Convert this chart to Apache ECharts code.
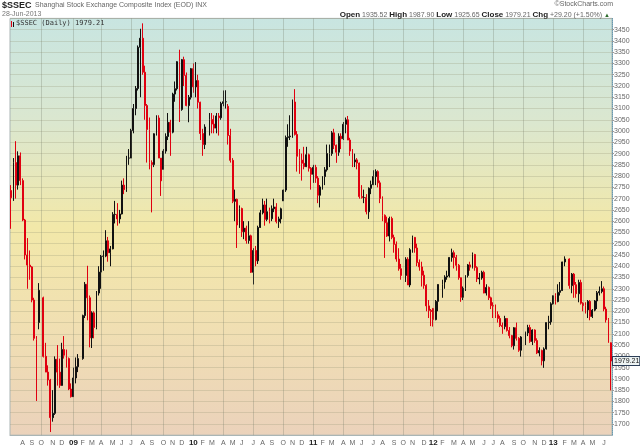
<!DOCTYPE html>
<html>
<head>
<meta charset="utf-8">
<title>$SSEC</title>
<script src="https://cdn.jsdelivr.net/npm/echarts@6.0.0/dist/echarts.min.js"></script>
<style>
  html, body { margin: 0; padding: 0; background: #fff; }
  #main { width: 640px; height: 448px; }
</style>
</head>
<body>
<div id="main"></div>
<script>
// weekly bars, rows are [open, high, low, close]
const bars2008 = [
  [2736,2760,2566,2704],[2704,2880,2690,2860],[2860,2955,2700,2760],[2760,2910,2740,2890],
  [2890,2905,2760,2780],[2780,2790,2600,2605],[2605,2610,2430,2450],[2450,2525,2300,2405],
  [2405,2470,2340,2397],[2397,2400,2240,2250],[2250,2260,2070,2080],[2080,2090,1802,2075],
  [2150,2325,2120,2293],[2260,2265,1995,2000],[2000,2060,1930,1930],[1930,1960,1870,1895],
  [1895,1900,1664,1728],[1728,1850,1710,1747],[1747,2000,1740,1987],[1987,2050,1870,1930],
  [1930,1990,1860,1871],[1871,2060,1870,2030],[2030,2090,1990,2005],[2005,2030,1950,1990],
  [1990,1995,1850,1855],[1855,1880,1817,1821]
];
const bars2009 = [
  [1821,1950,1820,1904],[1904,1995,1880,1954],[1954,2010,1930,1990],[1990,2185,1985,2181],
  [2181,2330,2170,2320],[2320,2402,2160,2260],[2260,2270,2040,2082],[2082,2200,2037,2193],
  [2193,2200,2080,2128],[2128,2290,2120,2281],[2281,2400,2270,2374],[2374,2450,2300,2444],
  [2444,2470,2380,2445],[2445,2560,2440,2513],[2513,2530,2420,2460],[2460,2490,2400,2477],
  [2477,2640,2475,2630],[2630,2690,2590,2630],[2630,2680,2580,2610],[2610,2650,2590,2632],
  [2632,2780,2630,2760],[2760,2790,2720,2740],[2740,2890,2730,2880],[2880,2920,2850,2880],
  [2880,3010,2880,3002],[3002,3120,2990,3100],[3100,3200,3070,3189],[3189,3380,3180,3372],
  [3372,3454,3150,3412],[3412,3478,3250,3261],[3261,3290,3050,3113],[3113,3120,2860,3007],
  [3007,3060,2830,2860],[2860,2870,2639,2851],[2851,2990,2840,2988],[2988,3070,2980,3058],
  [3058,3070,2880,2880],[2880,2880,2712,2779],[2830,2920,2830,2911],[2911,2990,2900,2976],
  [2976,3080,2960,3039],[3039,3050,2890,2995],[2995,3170,2990,3164],[3164,3220,3130,3188],
  [3188,3310,3180,3308],[3308,3361,3040,3096],[3096,3320,3090,3317],[3317,3330,3200,3247],
  [3247,3260,3110,3113],[3113,3160,3039,3150],[3150,3280,3140,3277]
];
const bars2010 = [
  [3277,3300,3170,3196],[3196,3306,3150,3224],[3224,3250,3100,3128],[3128,3130,2960,2989],
  [2989,3010,2890,2940],[2940,3030,2920,3018],[3018,3080,2980,3051],[3051,3080,2990,3031],
  [3031,3070,2990,3013],[3013,3080,2990,3067],[3067,3080,2980,3059],[3059,3130,3050,3122],
  [3122,3180,3110,3130],[3130,3181,3100,3130],[3110,3120,2940,2980],[2980,3010,2860,2870],
  [2870,2880,2680,2688],[2688,2740,2600,2697],[2697,2700,2481,2583],[2583,2670,2570,2656],
  [2656,2660,2530,2553],[2553,2600,2520,2569],[2569,2580,2500,2514],[2514,2600,2500,2535],
  [2535,2540,2370,2373],[2373,2480,2319,2470],[2470,2490,2400,2424],[2424,2580,2410,2572],
  [2572,2650,2570,2637],[2637,2700,2630,2672],[2672,2690,2580,2608],[2608,2700,2600,2642],
  [2642,2660,2590,2611],[2611,2670,2600,2655],[2655,2700,2640,2663],[2663,2680,2590,2598],
  [2598,2620,2570,2610],[2610,2660,2590,2655],[2690,2740,2690,2738],[2738,2980,2730,2971],
  [2971,3030,2930,2975],[2975,3070,2960,2978],[2978,3140,2970,3129],[3129,3186,2980,2985],
  [2985,3000,2820,2888],[2888,2920,2810,2871],[2871,2900,2780,2857],[2857,2930,2830,2842],
  [2842,2930,2840,2895],[2895,2900,2820,2835],[2835,2840,2740,2808]
];
const bars2011 = [
  [2808,2850,2770,2839],[2839,2850,2770,2791],[2791,2800,2680,2715],[2715,2760,2661,2752],
  [2752,2800,2740,2798],[2798,2840,2760,2828],[2828,2940,2820,2900],[2900,2940,2840,2900],
  [2900,3000,2890,2992],[2992,3010,2920,2937],[2937,2940,2859,2906],[2906,2990,2890,2977],
  [2977,2990,2920,2966],[2966,3040,2960,3030],[3030,3060,2990,3050],[3050,3067,2960,2960],
  [2960,2970,2890,2911],[2911,2920,2840,2863],[2863,2900,2840,2872],[2872,2880,2830,2858],
  [2858,2860,2700,2709],[2709,2760,2700,2705],[2705,2740,2680,2705],[2705,2720,2630,2642],
  [2642,2750,2610,2746],[2746,2780,2720,2762],[2762,2826,2760,2798],[2798,2830,2760,2820],
  [2820,2826,2750,2770],[2770,2780,2680,2701],[2701,2710,2600,2626],[2626,2630,2437,2593],
  [2593,2620,2530,2534],[2534,2620,2510,2612],[2612,2620,2520,2528],[2528,2540,2460,2497],
  [2497,2510,2420,2432],[2432,2480,2380,2389],[2389,2410,2340,2359],[2359,2440,2330,2431],
  [2431,2440,2320,2317],[2317,2480,2307,2473],[2473,2536,2460,2528],[2528,2530,2460,2481],
  [2481,2500,2400,2416],[2416,2430,2380,2397],[2397,2420,2310,2360],[2360,2380,2300,2315],
  [2315,2320,2200,2224],[2224,2250,2170,2204],[2204,2210,2134,2199]
];
const bars2012 = [
  [2212,2215,2132,2163],[2163,2250,2160,2244],[2244,2320,2200,2319],[2319,2340,2260,2330],
  [2330,2360,2300,2352],[2352,2380,2340,2357],[2357,2440,2350,2439],[2439,2478,2420,2460],
  [2460,2470,2390,2439],[2439,2450,2380,2404],[2404,2410,2340,2349],[2349,2350,2242,2262],
  [2262,2310,2250,2302],[2302,2360,2290,2359],[2359,2410,2350,2406],[2406,2420,2380,2396],
  [2396,2461,2390,2452],[2452,2455,2380,2394],[2394,2400,2330,2344],[2344,2370,2320,2348],
  [2348,2380,2340,2373],[2373,2380,2280,2281],[2281,2320,2270,2306],[2306,2310,2250,2260],
  [2260,2265,2210,2225],[2225,2240,2170,2223],[2223,2230,2170,2185],[2185,2200,2150,2168],
  [2168,2180,2130,2137],[2137,2150,2100,2132],[2132,2180,2120,2168],[2168,2170,2110,2115],
  [2115,2130,2080,2092],[2092,2095,2040,2047],[2047,2130,2030,2127],[2127,2150,2070,2080],
  [2080,2085,2020,2027],[2027,2090,1999,2086],[2086,2110,2050,2104],[2104,2140,2090,2128],
  [2128,2140,2060,2066],[2066,2120,2050,2117],[2117,2120,2060,2070],[2070,2080,2010,2015],
  [2015,2040,2000,2026],[2026,2030,1960,1980],[1980,2040,1949,2033],[2033,2150,2030,2150],
  [2150,2180,2120,2153],[2153,2240,2140,2233],[2233,2270,2230,2269]
];
const bars2013 = [
  [2269,2280,2230,2243],[2243,2320,2240,2284],[2284,2330,2270,2292],[2292,2420,2290,2419],
  [2419,2444,2400,2432],[2432,2435,2300,2314],[2314,2370,2280,2365],[2365,2370,2260,2318],
  [2318,2330,2260,2278],[2278,2340,2240,2328],[2328,2340,2230,2236],[2236,2240,2200,2225],
  [2225,2240,2190,2206],[2206,2250,2170,2244],[2244,2250,2160,2177],[2177,2210,2170,2205],
  [2205,2250,2200,2246],[2246,2290,2210,2282],[2282,2310,2270,2288],[2288,2334,2280,2300],
  [2300,2310,2200,2210],[2210,2220,2150,2162],[2162,2170,2060,2073],[2060,2062,1849,1979.21]
];

// weeks with no trading at all (new year / national day holidays)
const closedWeeks = ['2008-09-29','2009-01-26','2010-02-15','2011-10-03','2012-01-23','2012-10-01','2013-02-11'];
const firstMonday = '2008-06-30';
const lastMonday = '2013-06-24';

const monthLetters = ['J','F','M','A','M','J','J','A','S','O','N','D'];
const yTicks = { min: 1650, max: 3500, step: 50 };

const lastDay = { open: '1935.52', high: '1987.90', low: '1925.65', close: '1979.21', chg: '+29.20', pct: '+1.50%' };

const bars = [].concat(bars2008, bars2009, bars2010, bars2011, bars2012, bars2013);

// calendar weeks (named by their Wednesday); closed weeks stay empty
function iso(d) { return d.toISOString().slice(0, 10); }
const weeks = [];
const candleData = [];
let next = 0;
for (let d = new Date(firstMonday + 'T00:00:00Z'); iso(d) <= lastMonday; d.setUTCDate(d.getUTCDate() + 7)) {
  weeks.push(iso(new Date(d.getTime() + 2 * 86400000)));
  if (closedWeeks.includes(iso(d))) {
    candleData.push('-');
  } else {
    const b = bars[next++];
    candleData.push([b[0], b[3], b[2], b[1]]); // echarts order: open, close, low, high
  }
}
const lastClose = bars[bars.length - 1][3];

const monthOf = s => +s.slice(5, 7) - 1;
const isMonthStart = idx => idx > 0 && monthOf(weeks[idx]) !== monthOf(weeks[idx - 1]);
const isQuarterStart = idx => isMonthStart(idx) && monthOf(weeks[idx]) % 3 === 0;

// quarter grid lines (splitLine.interval follows the labels, so use markLine)
const gridStyle = { color: 'rgba(110,120,100,0.28)', width: 1, type: 'solid' };
const quarterLines = weeks
  .filter((w, i) => isQuarterStart(i))
  .map(w => ({ xAxis: w, lineStyle: gridStyle, label: { show: false } }));

const hidden = { color: 'rgba(0,0,0,0)', width: 0 };

const chart = echarts.init(document.getElementById('main'));
const font = 'Liberation Sans, Arial, sans-serif';

chart.setOption({
  animation: false,
  backgroundColor: '#fff',
  textStyle: { fontFamily: font },
  grid: {
    left: 10, right: 28, top: 18.4, bottom: 12.8,
    show: true,
    borderColor: '#aab5b5',
    borderWidth: 1,
    backgroundColor: {
      type: 'linear', x: 0, y: 0, x2: 0, y2: 1,
      colorStops: [
        { offset: 0, color: '#c8e5e1' },
        { offset: 0.25, color: '#dbe7cf' },
        { offset: 0.5, color: '#f2e8a9' },
        { offset: 0.7, color: '#f1e1b1' },
        { offset: 1, color: '#ebd2bb' }
      ]
    }
  },
  xAxis: {
    type: 'category',
    data: weeks,
    axisLine: { show: true, lineStyle: { color: '#aab5b5' } },
    axisTick: { show: false },
    axisLabel: {
      interval: idx => isMonthStart(idx),
      margin: 4,
      fontSize: 7,
      color: '#666',
      formatter: v => {
        const m = monthOf(v);
        return m === 0 ? '{y|' + v.slice(2, 4) + '}' : monthLetters[m];
      },
      rich: { y: { fontSize: 8, fontWeight: 'bold', color: '#222' } }
    },
    splitLine: { show: false }
  },
  yAxis: {
    type: 'value',
    position: 'right',
    min: yTicks.min,
    max: yTicks.max,
    interval: yTicks.step,
    axisLine: { show: true, lineStyle: { color: '#6a9ab0', type: 'dotted' } },
    axisTick: { show: true, length: 2, lineStyle: { color: '#999' } },
    axisLabel: {
      showMinLabel: false,
      showMaxLabel: false,
      margin: 2,
      fontSize: 7,
      color: '#666',
      formatter: v => String(v)
    },
    splitLine: { lineStyle: { color: 'rgba(150,150,120,0.28)', width: 1 } }
  },
  series: [{
    type: 'candlestick',
    data: candleData,
    clip: false,
    barWidth: 1.4,
    itemStyle: {
      color: '#111', color0: '#e00010',
      borderColor: '#111', borderColor0: '#e00010',
      borderWidth: 1
    },
    markLine: {
      silent: true,
      symbol: 'none',
      animation: false,
      data: quarterLines.concat([{
        yAxis: lastClose,
        lineStyle: hidden,
        label: {
          show: true,
          position: 'end',
          distance: 1,
          formatter: () => lastClose.toFixed(2),
          fontSize: 7,
          color: '#111',
          backgroundColor: '#eef4f4',
          borderColor: '#2c3e58',
          borderWidth: 1,
          padding: [1, 0, 0, 1]
        }
      }])
    }
  }],
  graphic: [
    { type: 'text', left: 2, top: 1, style: { text: '$SSEC', font: 'bold 9px ' + font, fill: '#222' } },
    { type: 'text', left: 35, top: 2, style: { text: 'Shanghai Stock Exchange Composite Index (EOD) INX', font: '7px ' + font, fill: '#666' } },
    { type: 'text', left: 2, top: 11, style: { text: '28-Jun-2013', font: '7px ' + font, fill: '#777' } },
    { type: 'text', right: 27, top: 1, style: { text: '\u00a9StockCharts.com', font: '7px ' + font, fill: '#666' } },
    {
      type: 'text', right: 30, top: 11,
      style: {
        text: '{b|Open} ' + lastDay.open + ' {b|High} ' + lastDay.high + ' {b|Low} ' + lastDay.low +
              ' {b|Close} ' + lastDay.close + ' {b|Chg} ' + lastDay.chg + ' (' + lastDay.pct + ') {g|\u25b2}',
        font: '7px ' + font, fill: '#666',
        rich: {
          b: { fontWeight: 'bold', fontSize: 8, fill: '#222', fontFamily: font },
          g: { fontSize: 6, fill: '#2a6a2a' }
        }
      }
    },
    { type: 'rect', left: 11, top: 21, shape: { width: 1, height: 6 }, style: { fill: '#e00010' } },
    { type: 'rect', left: 13, top: 22, shape: { width: 1, height: 5 }, style: { fill: '#111' } },
    { type: 'text', left: 16, top: 20, style: { text: '$SSEC (Daily) ' + lastClose.toFixed(2), font: '7px DejaVu Sans Mono, monospace', fill: '#333' } }
  ]
});
</script>
</body>
</html>
